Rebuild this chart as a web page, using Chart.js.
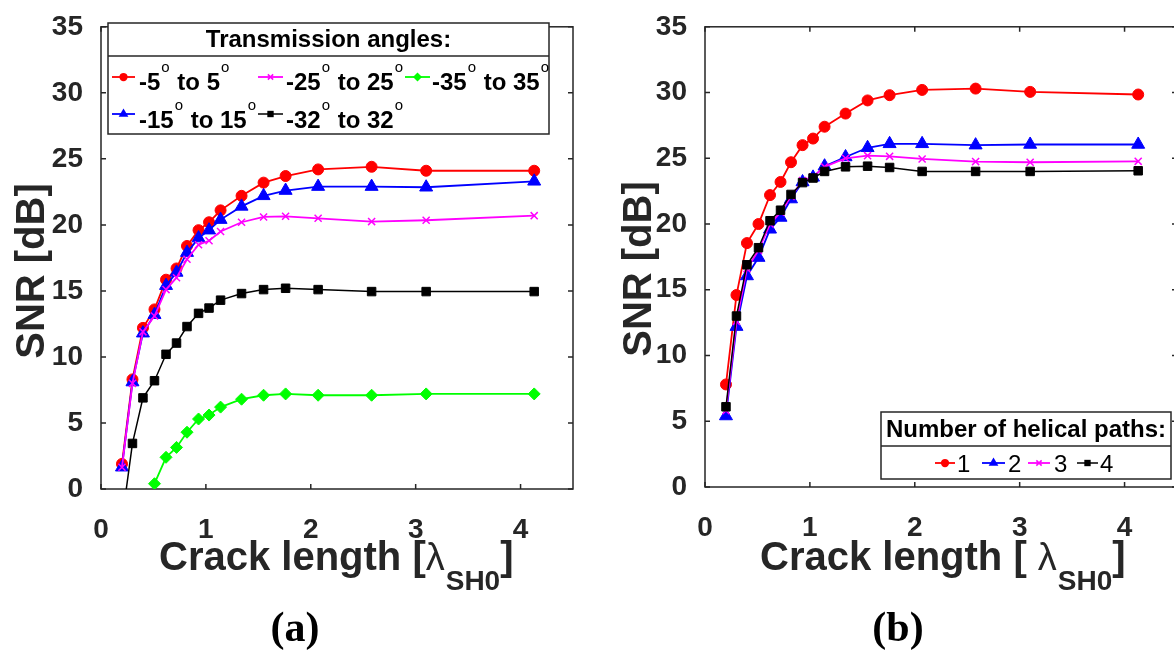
<!DOCTYPE html>
<html>
<head>
<meta charset="utf-8">
<title>SNR vs crack length</title>
<script src="https://cdn.jsdelivr.net/npm/chart.js"></script>
<style>
  html, body { margin: 0; padding: 0; background: #fff; overflow: hidden; }
  #wrap { position: relative; width: 1174px; height: 652px; overflow: hidden; }
  .pane { position: absolute; top: 0; width: 600px; height: 652px; }
  #paneA { left: 0; }
  #paneB { left: 600px; }
</style>
</head>
<body>
<div id="wrap">
  <div class="pane" id="paneA"><canvas id="chartA" width="600" height="652"></canvas></div>
  <div class="pane" id="paneB"><canvas id="chartB" width="600" height="652"></canvas></div>
</div>

<script>
// crack length in SH0 wavelengths (shared by both panels)
const crackLen = [0.2, 0.3, 0.4, 0.51, 0.62, 0.72, 0.82, 0.93, 1.03, 1.14, 1.34, 1.55, 1.76, 2.07, 2.58, 3.1, 4.13];
const xTicks = [0, 1, 2, 3, 4];
const yTicks = [0, 5, 10, 15, 20, 25, 30, 35];

// (a) transmission angles
const angleLabels = ['-5° to 5°', '-15° to 15°', '-25° to 25°', '-32° to 32°', '-35° to 35°'];
const snrAng5  = [1.9, 8.3, 12.2, 13.6, 15.85, 16.7, 18.4, 19.6, 20.2, 21.1, 22.2, 23.2, 23.7, 24.2, 24.4, 24.1, 24.1];
const snrAng15 = [1.65, 8.1, 11.8, 13.2, 15.4, 16.4, 17.9, 19.0, 19.6, 20.4, 21.4, 22.2, 22.6, 22.9, 22.9, 22.85, 23.3];
const snrAng25 = [1.65, 8.0, 11.9, 13.1, 15.1, 16.0, 17.4, 18.5, 18.8, 19.5, 20.2, 20.6, 20.65, 20.5, 20.25, 20.35, 20.7];
const snrAng32 = [-2.4, 3.45, 6.9, 8.2, 10.2, 11.05, 12.3, 13.3, 13.7, 14.3, 14.8, 15.1, 15.2, 15.1, 14.95, 14.95, 14.95];
const snrAng35 = [null, null, null, 0.4, 2.4, 3.15, 4.3, 5.3, 5.6, 6.2, 6.8, 7.1, 7.2, 7.1, 7.1, 7.2, 7.2];

// (b) number of helical paths
const pathLabels = ['1', '2', '3', '4'];
const snrPath1 = [7.8, 14.6, 18.55, 20.0, 22.2, 23.2, 24.7, 26.0, 26.5, 27.4, 28.4, 29.4, 29.8, 30.2, 30.3, 30.05, 29.85];
const snrPath2 = [5.4, 12.2, 16.05, 17.45, 19.6, 20.5, 21.9, 23.2, 23.55, 24.4, 25.1, 25.8, 26.1, 26.1, 26.0, 26.05, 26.05];
const snrPath3 = [5.8, 12.6, 16.6, 18.0, 20.0, 20.9, 22.1, 23.3, 23.6, 24.35, 25.0, 25.2, 25.15, 24.95, 24.75, 24.7, 24.77];
const snrPath4 = [6.1, 13.0, 16.9, 18.2, 20.25, 21.05, 22.25, 23.15, 23.5, 24.0, 24.35, 24.4, 24.3, 24.0, 24.0, 24.0, 24.05];

const SANS = '"Liberation Sans", Arial, sans-serif';
const SERIF = '"Liberation Serif", "Times New Roman", serif';
const INK = '#262626';

// matlab-ish marker looks
const STYLES = {
  red:     { color: '#ff0000', pointStyle: 'circle',   radius: 5.5, lw: 1.8 },
  blue:    { color: '#0000ff', pointStyle: 'triangle', radius: 7.5, lw: 1.8 },
  magenta: { color: '#ff00ff', pointStyle: 'crossRot', radius: 5,   lw: 1.8 },
  black:   { color: '#000000', pointStyle: 'rect',     radius: 6,   lw: 1.5 },
  green:   { color: '#00ff00', pointStyle: 'rectRot',  radius: 6,   lw: 1.8 }
};

function series(label, values, st, idx, total) {
  return {
    label: label,
    data: crackLen.map((x, i) => ({ x: x, y: values[i] })),
    borderColor: st.color,
    backgroundColor: st.color,
    borderWidth: st.lw,
    pointStyle: st.pointStyle,
    pointRadius: st.radius,
    pointBorderWidth: st.pointStyle === 'crossRot' ? 1.5 : 1,
    pointBorderColor: st.color,
    pointBackgroundColor: st.color,
    tension: 0,
    spanGaps: false,
    order: total - idx   // later series on top, like matlab
  };
}

function drawMarker(ctx, style, x, y, r, color) {
  ctx.save();
  ctx.fillStyle = color;
  ctx.strokeStyle = color;
  ctx.lineWidth = 1.5;
  ctx.beginPath();
  if (style === 'circle') {
    ctx.arc(x, y, r, 0, Math.PI * 2);
    ctx.fill();
  } else if (style === 'triangle') {
    ctx.moveTo(x, y - r);
    ctx.lineTo(x + r * 0.866, y + r / 2);
    ctx.lineTo(x - r * 0.866, y + r / 2);
    ctx.closePath();
    ctx.fill();
  } else if (style === 'rect') {
    const s = r * Math.SQRT1_2;
    ctx.rect(x - s, y - s, 2 * s, 2 * s);
    ctx.fill();
  } else if (style === 'rectRot') {
    ctx.moveTo(x, y - r);
    ctx.lineTo(x + r, y);
    ctx.lineTo(x, y + r);
    ctx.lineTo(x - r, y);
    ctx.closePath();
    ctx.fill();
  } else if (style === 'crossRot') {
    const s = r * Math.SQRT1_2;
    ctx.moveTo(x - s, y - s); ctx.lineTo(x + s, y + s);
    ctx.moveTo(x + s, y - s); ctx.lineTo(x - s, y + s);
    ctx.stroke();
  }
  ctx.restore();
}

// text with "°" drawn as a small raised o
function drawDegText(ctx, str, x, base, supBase, font) {
  const parts = str.split('°');
  let cx = x;
  parts.forEach((p, i) => {
    ctx.font = font;
    ctx.fillText(p, cx, base);
    cx += ctx.measureText(p).width;
    if (i < parts.length - 1) {
      ctx.font = '15px ' + SANS;
      ctx.fillText('o', cx + 1, supBase);
      cx += ctx.measureText('o').width + 2;
    }
  });
}

// axes box with inward ticks on all four sides
const boxFrame = {
  id: 'boxFrame',
  beforeDatasetsDraw(chart) {
    const { ctx, chartArea: a, scales: { x, y } } = chart;
    ctx.save();
    ctx.strokeStyle = INK;
    ctx.lineWidth = 1.5;
    ctx.strokeRect(a.left, a.top, a.right - a.left, a.bottom - a.top);
    ctx.beginPath();
    x.ticks.forEach(t => {
      const px = x.getPixelForValue(t.value);
      ctx.moveTo(px, a.bottom); ctx.lineTo(px, a.bottom - 5);
      ctx.moveTo(px, a.top); ctx.lineTo(px, a.top + 5);
    });
    y.ticks.forEach(t => {
      const py = y.getPixelForValue(t.value);
      ctx.moveTo(a.left, py); ctx.lineTo(a.left + 5, py);
      ctx.moveTo(a.right, py); ctx.lineTo(a.right - 5, py);
    });
    ctx.stroke();
    ctx.restore();
  }
};

// axis titles (with subscript) and the panel tag
const panelText = {
  id: 'panelText',
  afterDraw(chart, args, opts) {
    const ctx = chart.ctx;
    ctx.save();
    ctx.fillStyle = INK;

    // y title
    ctx.translate(opts.yTitle.x, opts.yTitle.y);
    ctx.rotate(-Math.PI / 2);
    ctx.font = 'bold 40px ' + SANS;
    ctx.textAlign = 'center';
    ctx.textBaseline = 'middle';
    ctx.fillText('SNR [dB]', 0, 0);
    ctx.setTransform(1, 0, 0, 1, 0, 0);

    // x title
    ctx.textAlign = 'left';
    ctx.textBaseline = 'alphabetic';
    let cx = opts.xTitle.x;
    const b = opts.xTitle.base;
    ctx.font = 'bold 40px ' + SANS;
    ctx.fillText(opts.xTitle.lead, cx, b);
    cx += ctx.measureText(opts.xTitle.lead).width;
    ctx.font = '38px ' + SANS;
    ctx.fillText('λ', cx, b);
    cx += ctx.measureText('λ').width + 1;
    ctx.font = 'bold 28px ' + SANS;
    ctx.fillText('SH0', cx, b + 20);
    cx += ctx.measureText('SH0').width;
    ctx.font = 'bold 40px ' + SANS;
    ctx.fillText(']', cx, b);

    // panel tag
    ctx.fillStyle = '#000';
    ctx.font = 'bold 42px ' + SERIF;
    ctx.textAlign = 'center';
    ctx.textBaseline = 'middle';
    ctx.fillText(opts.tag.text, opts.tag.x, opts.tag.y);
    ctx.restore();
  }
};

// boxed legend: title row on top, entries below
const boxLegend = {
  id: 'boxLegend',
  afterDatasetsDraw(chart, args, opts) {
    const ctx = chart.ctx;
    const bx = opts.box;
    ctx.save();
    ctx.fillStyle = '#fff';
    ctx.fillRect(bx.l, bx.t, bx.r - bx.l, bx.b - bx.t);
    ctx.strokeStyle = INK;
    ctx.lineWidth = 1.5;
    ctx.strokeRect(bx.l, bx.t, bx.r - bx.l, bx.b - bx.t);
    ctx.beginPath();
    ctx.moveTo(bx.l, bx.sep);
    ctx.lineTo(bx.r, bx.sep);
    ctx.stroke();

    ctx.fillStyle = '#000';
    ctx.font = 'bold 24px ' + SANS;
    ctx.textAlign = 'center';
    ctx.textBaseline = 'middle';
    ctx.fillText(opts.title, (bx.l + bx.r) / 2, opts.titleY);

    ctx.textAlign = 'left';
    ctx.textBaseline = 'alphabetic';
    opts.entries.forEach(e => {
      const ds = chart.data.datasets[e.ds];
      ctx.strokeStyle = ds.borderColor;
      ctx.lineWidth = ds.borderWidth;
      ctx.beginPath();
      ctx.moveTo(e.x0, e.y);
      ctx.lineTo(e.x1, e.y);
      ctx.stroke();
      drawMarker(ctx, ds.pointStyle, (e.x0 + e.x1) / 2, e.y, ds.pointRadius * 0.75, ds.borderColor);
      ctx.fillStyle = '#000';
      drawDegText(ctx, ds.label, e.tx, e.base, e.sup, opts.font);
    });
    ctx.restore();
  }
};

function scalesFor(yWidth, xHeight) {
  return {
    x: {
      type: 'linear', min: 0, max: 4.5,
      afterBuildTicks: s => { s.ticks = xTicks.map(v => ({ value: v })); },
      afterFit: s => { s.height = xHeight; },
      ticks: { font: { family: SANS, size: 28, weight: 'bold' }, color: INK, padding: 16, maxRotation: 0, autoSkip: false },
      grid: { display: false },
      border: { display: false }
    },
    y: {
      type: 'linear', min: 0, max: 35,
      afterBuildTicks: s => { s.ticks = yTicks.map(v => ({ value: v })); },
      afterFit: s => { s.width = yWidth; },
      ticks: { font: { family: SANS, size: 28, weight: 'bold' }, color: INK, padding: 10 },
      grid: { display: false },
      border: { display: false }
    }
  };
}

const common = {
  responsive: false,
  animation: false,
  devicePixelRatio: 1,
  events: []
};

new Chart(document.getElementById('chartA'), {
  type: 'line',
  data: {
    datasets: [
      series(angleLabels[0], snrAng5,  STYLES.red,     0, 5),
      series(angleLabels[1], snrAng15, STYLES.blue,    1, 5),
      series(angleLabels[2], snrAng25, STYLES.magenta, 2, 5),
      series(angleLabels[3], snrAng32, STYLES.black,   3, 5),
      series(angleLabels[4], snrAng35, STYLES.green,   4, 5)
    ]
  },
  options: Object.assign({}, common, {
    layout: { padding: { left: 0, top: 17, right: 27, bottom: 0 } },
    scales: scalesFor(101, 163),
    plugins: {
      legend: { display: false },
      tooltip: { enabled: false },
      panelText: {
        yTitle: { x: 33, y: 271 },
        xTitle: { x: 159, base: 570, lead: 'Crack length [' },
        tag: { text: '(a)', x: 295, y: 630 }
      },
      boxLegend: {
        box: { l: 108, t: 23, r: 549, b: 134, sep: 56 },
        title: 'Transmission angles:',
        titleY: 40,
        font: 'bold 24px ' + SANS,
        entries: [
          { ds: 0, x0: 112, x1: 135, y: 77, tx: 139, base: 90, sup: 72 },
          { ds: 2, x0: 258, x1: 283, y: 77, tx: 286, base: 90, sup: 72 },
          { ds: 4, x0: 405, x1: 430, y: 77, tx: 432, base: 90, sup: 72 },
          { ds: 1, x0: 112, x1: 135, y: 114, tx: 139, base: 128, sup: 110 },
          { ds: 3, x0: 258, x1: 283, y: 114, tx: 286, base: 128, sup: 110 }
        ]
      }
    }
  }),
  plugins: [boxFrame, boxLegend, panelText]
});

new Chart(document.getElementById('chartB'), {
  type: 'line',
  data: {
    datasets: [
      series(pathLabels[0], snrPath1, STYLES.red,     0, 4),
      series(pathLabels[1], snrPath2, STYLES.blue,    1, 4),
      series(pathLabels[2], snrPath3, STYLES.magenta, 2, 4),
      series(pathLabels[3], snrPath4, STYLES.black,   3, 4)
    ]
  },
  options: Object.assign({}, common, {
    layout: { padding: { left: 0, top: 16, right: 23, bottom: 0 } },
    scales: scalesFor(105, 165),
    plugins: {
      legend: { display: false },
      tooltip: { enabled: false },
      panelText: {
        yTitle: { x: 40, y: 269 },
        xTitle: { x: 160, base: 570, lead: 'Crack length [ ' },
        tag: { text: '(b)', x: 298, y: 630 }
      },
      boxLegend: {
        box: { l: 281, t: 412, r: 571, b: 479, sep: 446 },
        title: 'Number of helical paths:',
        titleY: 430,
        font: '24px ' + SANS,
        entries: [
          { ds: 0, x0: 335, x1: 355, y: 463, tx: 357, base: 472, sup: 460 },
          { ds: 1, x0: 382, x1: 405, y: 463, tx: 408, base: 472, sup: 460 },
          { ds: 2, x0: 428, x1: 450, y: 463, tx: 454, base: 472, sup: 460 },
          { ds: 3, x0: 477, x1: 498, y: 463, tx: 500, base: 472, sup: 460 }
        ]
      }
    }
  }),
  plugins: [boxFrame, boxLegend, panelText]
});
</script>
</body>
</html>
